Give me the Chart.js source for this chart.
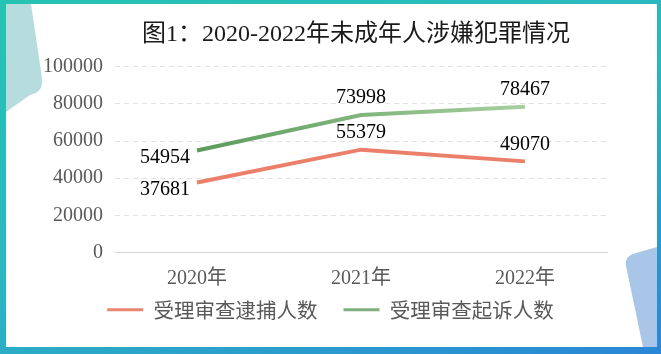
<!DOCTYPE html>
<html>
<head>
<meta charset="utf-8">
<script src="https://cdn.jsdelivr.net/npm/chart.js@4"></script>
<style>
  html, body { margin: 0; padding: 0; }
  .frame {
    position: relative; width: 661px; height: 354px; overflow: hidden;
    background: linear-gradient(160deg, #26c3b3 0%, #2bb6c2 50%, #2a86d6 100%);
  }
  .inner { position: absolute; left: 6px; top: 4px; right: 4px; bottom: 7px; background: #fff; }
  svg.deco { position: absolute; left: 0; top: 0; }
  canvas { position: absolute; left: 0; top: 0; }
</style>
</head>
<body>
<div class="frame">
  <div class="inner"></div>
  <svg class="deco" width="661" height="354">
    <path d="M6 4 L31 4 L42 78 Q44 92 30 95 L6 112 Z" fill="#b7dcdd"/>
    <path d="M626 266 Q624 256 636 253 L657 247 L657 347 L643 347 Z" fill="#a9c6e8"/>
  </svg>
  <canvas id="chart" width="661" height="354"></canvas>
</div>
<script>
// chart values
const years = ['2020年', '2021年', '2022年'];
const arrestCases = [37681, 55379, 49070];    // 受理审查逮捕人数
const prosecuteCases = [54954, 73998, 78467]; // 受理审查起诉人数
const yTicks = [0, 20000, 40000, 60000, 80000, 100000];

const serif = "'Liberation Serif', 'Noto Sans CJK SC', serif";

function greenLine(context) {
    const { ctx, chartArea } = context.chart;
    if (!chartArea) return '#7fae7f';
    const g = ctx.createLinearGradient(chartArea.left + 80, 0, chartArea.right - 80, 0);
    g.addColorStop(0, '#5a9b5a');
    g.addColorStop(1, '#a9cfa0');
    return g;
}

// value labels next to each point
const valueLabels = {
    id: 'valueLabels',
    afterDatasetsDraw(chart) {
        const ctx = chart.ctx;
        ctx.save();
        ctx.font = '20px ' + serif;
        ctx.fillStyle = '#000';
        ctx.textBaseline = 'middle';
        chart.data.datasets.forEach((ds, di) => {
            const meta = chart.getDatasetMeta(di);
            meta.data.forEach((pt, i) => {
                const text = String(ds.data[i]);
                if (i === 0) {
                    ctx.textAlign = 'right';
                    ctx.fillText(text, pt.x - 7, pt.y + 7);
                } else {
                    ctx.textAlign = 'center';
                    ctx.fillText(text, pt.x, pt.y - 17);
                }
            });
        });
        ctx.restore();
    }
};

// nudge title and legend to where the original has them
const nudge = {
    id: 'nudge',
    afterLayout(chart) {
        const lg = chart.legend;
        lg.left += 7; lg.right += 7;
        lg.top -= 18; lg.bottom -= 18;
        const t = chart.titleBlock;
        t.left -= 5; t.right -= 5;
    }
};

new Chart(document.getElementById('chart'), {
    type: 'line',
    data: {
        labels: years,
        datasets: [{
            label: '受理审查逮捕人数',
            data: arrestCases,
            borderColor: '#ec7f69',
            backgroundColor: '#e98670',
            borderWidth: 4,
            pointRadius: 0,
            tension: 0
        }, {
            label: '受理审查起诉人数',
            data: prosecuteCases,
            borderColor: greenLine,
            backgroundColor: '#80ad7e',
            borderWidth: 4,
            pointRadius: 0,
            tension: 0
        }]
    },
    options: {
        responsive: false,
        animation: false,
        layout: { padding: { left: 40, right: 54, top: 0, bottom: 6 } },
        plugins: {
            title: {
                display: true,
                fullSize: false,
                text: '图1：2020-2022年未成年人涉嫌犯罪情况',
                color: '#1a1a1a',
                font: { family: serif, size: 24, weight: 'normal' },
                padding: { top: 20, bottom: 18 }
            },
            legend: {
                position: 'bottom',
                labels: {
                    color: '#595959',
                    font: { family: "'Noto Sans CJK SC', sans-serif", size: 20.5 },
                    boxWidth: 36,
                    boxHeight: 3,
                    padding: 26,
                    generateLabels(chart) {
                        return Chart.defaults.plugins.legend.labels.generateLabels(chart).map(l => {
                            l.fillStyle = chart.data.datasets[l.datasetIndex].backgroundColor;
                            l.lineWidth = 0;
                            return l;
                        });
                    }
                }
            },
            tooltip: { enabled: false }
        },
        scales: {
            x: {
                offset: true,
                afterFit(scale) { scale.height = 39; },
                grid: { display: false, drawTicks: false },
                border: { display: true, color: '#d6d6d6', width: 1 },
                ticks: { color: '#595959', font: { family: serif, size: 20 }, padding: 14 }
            },
            y: {
                min: 0,
                max: 100000,
                afterBuildTicks(scale) { scale.ticks = yTicks.map(v => ({ value: v })); },
                afterFit(scale) { scale.width = 75; },
                border: { display: false, dash: [5, 4] },
                grid: {
                    drawTicks: false,
                    color: c => c.tick && c.tick.value === 0 ? 'rgba(0,0,0,0)' : '#e3e3e3'
                },
                ticks: {
                    color: '#595959',
                    font: { family: serif, size: 20 },
                    padding: 12,
                    callback: v => String(v)
                }
            }
        }
    },
    plugins: [valueLabels, nudge]
});
</script>
</body>
</html>
